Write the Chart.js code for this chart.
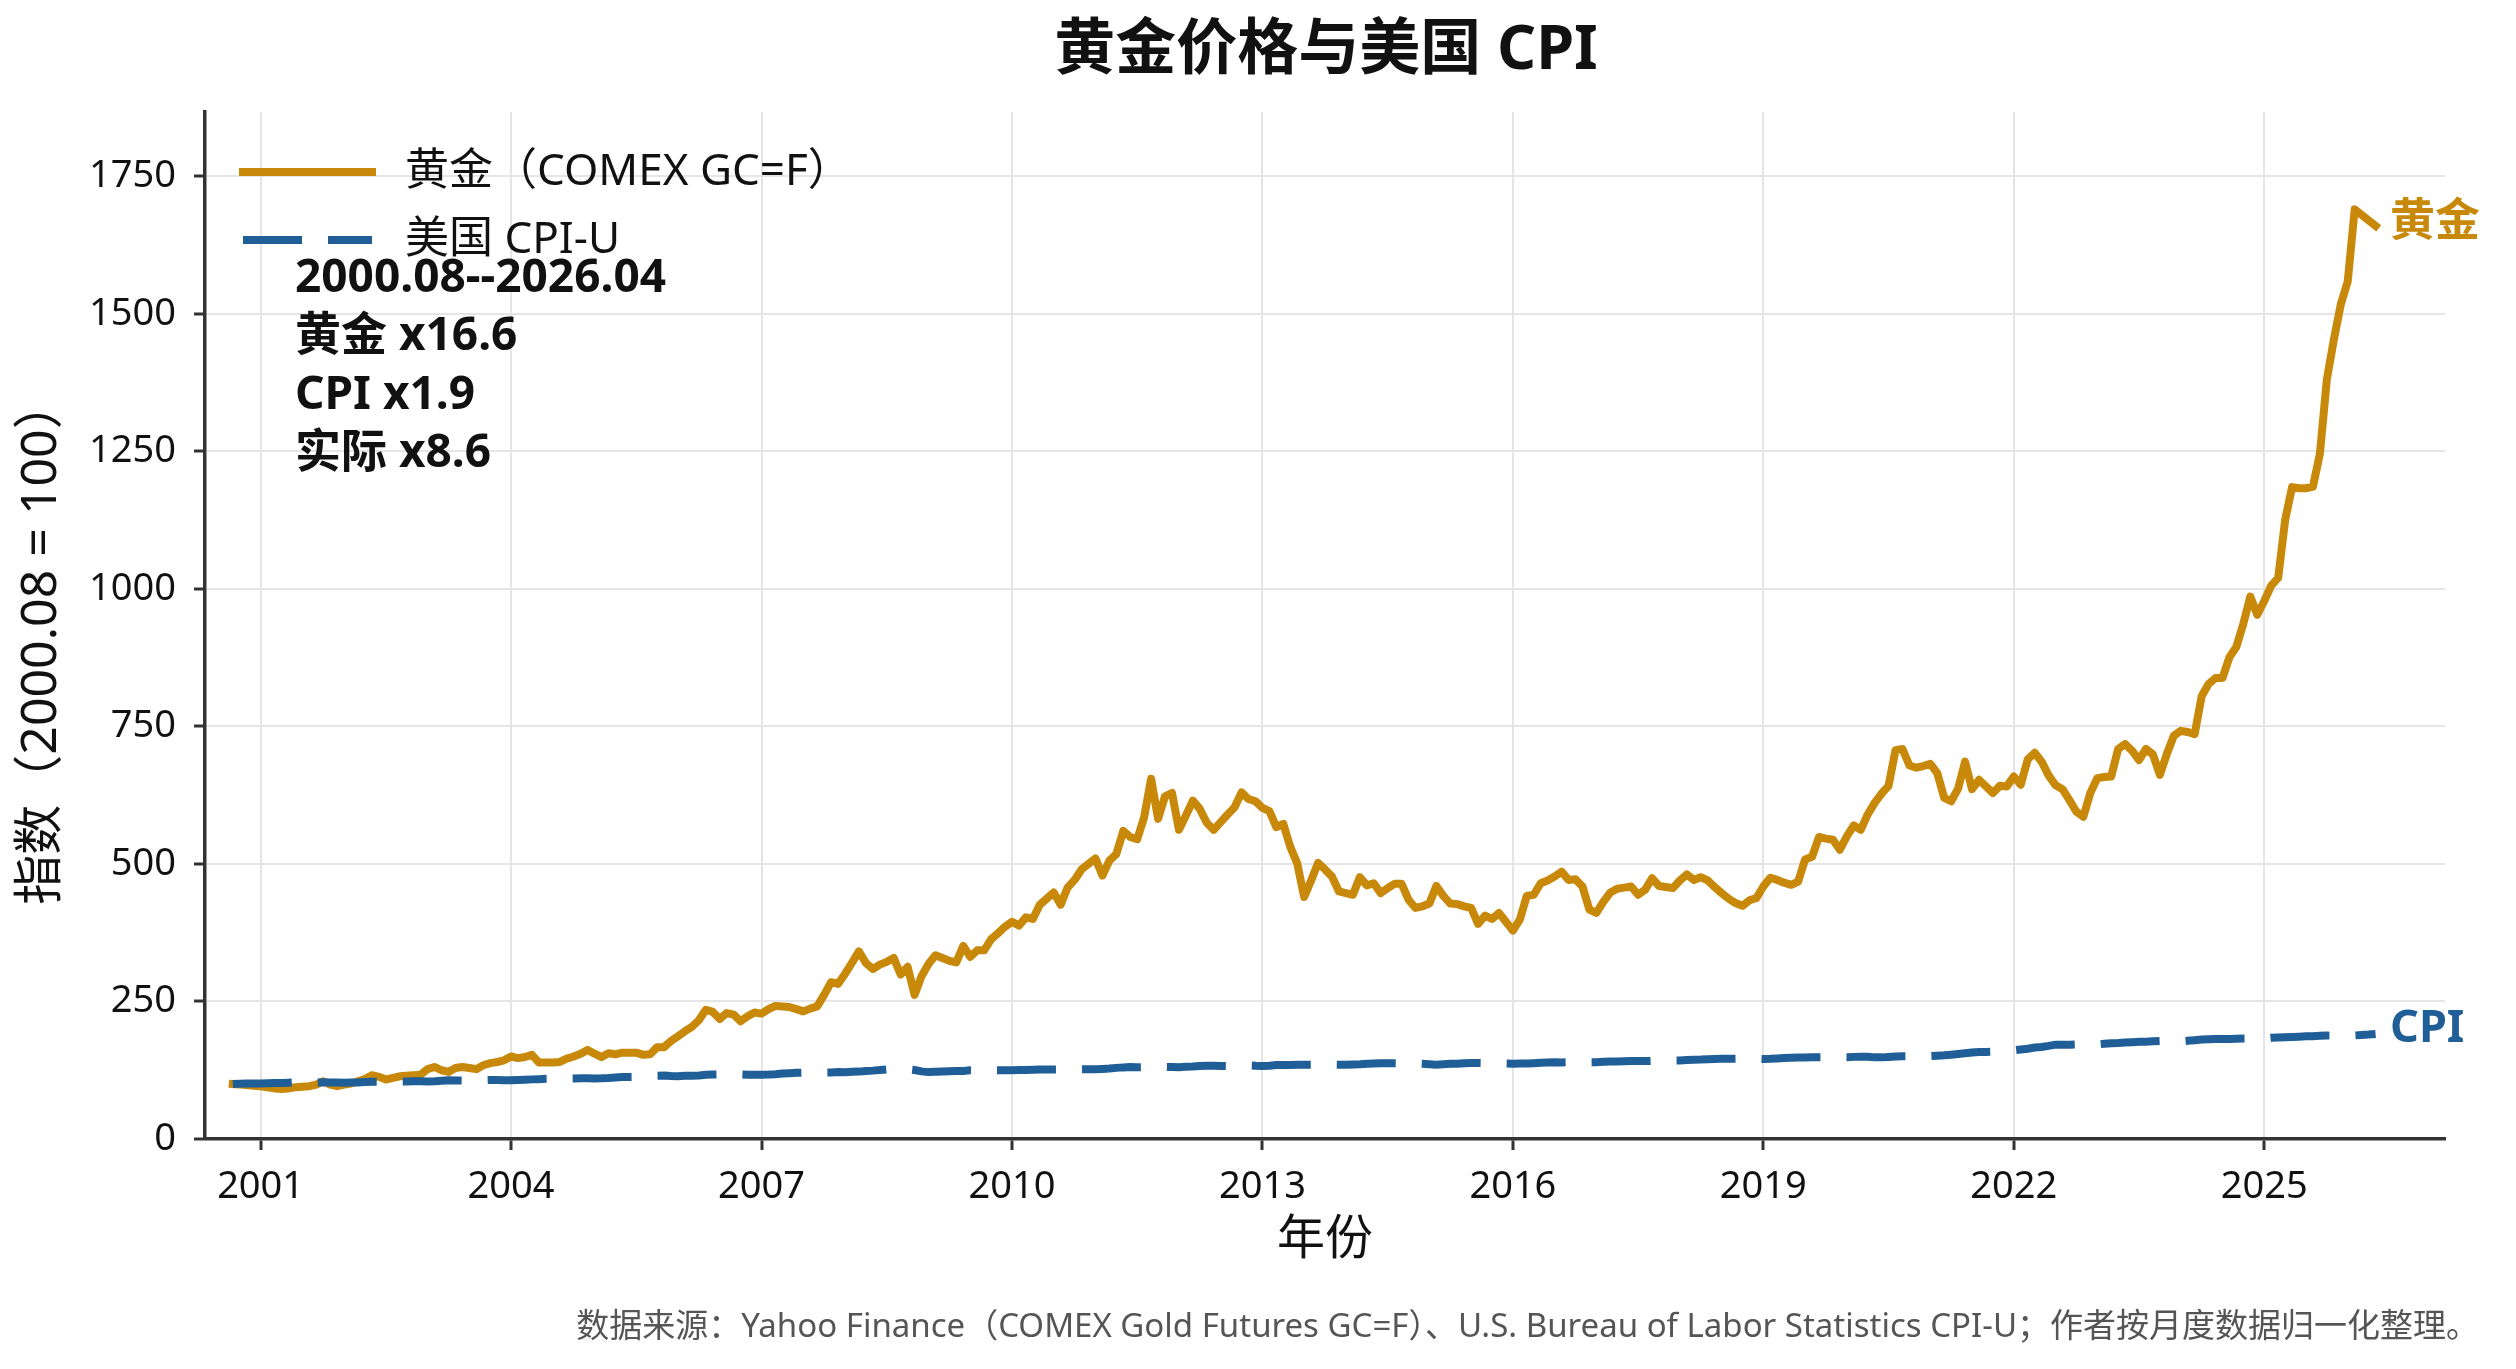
<!DOCTYPE html>
<html lang="zh-CN">
<head>
<meta charset="utf-8">
<title>黄金价格与美国 CPI</title>
<script src="https://cdn.jsdelivr.net/npm/chart.js@4.4.1/dist/chart.umd.min.js"></script>
<style>
  html, body { margin: 0; padding: 0; background: #fff; }
  #wrap { width: 2516px; height: 1369px; position: relative; }
</style>
</head>
<body>
<div id="wrap"><canvas id="chart" width="2516" height="1369"></canvas></div>
<script>
// Monthly series, 2000.08 .. 2026.04, index 2000.08 = 100
const START_YEAR = 2000;
const START_MONTH = 8;

const GOLD = [
  100, 99, 98, 97, 96,
  94, 92, 91, 92, 94, 95, 96, 99, 105, 99, 96, 99,
  101, 105, 109, 116, 113, 108, 111, 114, 115, 116, 117, 127,
  131, 125, 122, 129, 131, 129, 127, 134, 138, 140, 143, 150,
  147, 149, 153, 139, 139, 139, 140, 146, 150, 155, 162, 155,
  149, 156, 154, 157, 157, 157, 153, 154, 167, 167, 178, 187,
  196, 204, 216, 235, 231, 218, 229, 226, 214, 223, 230, 228,
  236, 242, 241, 240, 236, 232, 237, 241, 262, 285, 282, 300,
  320, 341, 320, 309, 317, 322, 329, 299, 313, 262, 296, 318,
  334, 329, 324, 321, 351, 331, 343, 343, 363, 374, 386, 395,
  388, 403, 400, 426, 437, 448, 426, 457, 471, 490, 500, 510,
  479, 506, 518, 560, 549, 545, 585, 655, 582, 623, 629, 562,
  588, 615, 600, 575, 562, 576, 590, 603, 630, 618, 614, 602,
  596, 567, 573, 531, 501, 440, 470, 502, 490, 477, 450, 447,
  444, 476, 461, 465, 447, 456, 464, 464, 435, 420, 423, 428,
  460, 442, 428, 427, 423, 420, 391, 406, 400, 411, 395, 379,
  399, 442, 444, 465, 470, 477, 486, 471, 472, 459, 417, 411,
  431, 448, 455, 457, 459, 444, 453, 474, 460, 458, 456, 470,
  481, 471, 476, 470, 458, 447, 437, 429, 424, 434, 438, 459,
  475, 471, 466, 462, 468, 508, 513, 549, 546, 544, 526, 550,
  570, 562, 590, 611, 628, 642, 707, 709, 679, 675, 678, 682,
  665, 620, 614, 637, 686, 636, 653, 641, 629, 642, 641, 659,
  644, 690, 702, 686, 661, 643, 636, 616, 595, 586, 629, 656,
  658, 659, 709, 718, 706, 689, 709, 699, 662, 700, 733, 742,
  740, 736, 805, 827, 838, 838, 876, 895, 937, 986, 953, 978,
  1006, 1020, 1125, 1185, 1183, 1183, 1186, 1246, 1381, 1453, 1517, 1559,
  1690, 1680, 1670, 1660
];

const CPI = [
  100.0, 100.5, 100.7, 100.8, 100.7,
  101.3, 101.7, 102.0, 102.4, 102.8, 103.0, 102.7, 102.7, 103.2, 102.8, 102.7, 102.3,
  102.5, 102.9, 103.5, 104.1, 104.1, 104.1, 104.2, 104.6, 104.7, 104.9, 104.9, 104.7,
  105.2, 106.0, 106.6, 106.4, 106.2, 106.3, 106.4, 106.8, 107.2, 107.1, 106.8, 106.7,
  107.2, 107.8, 108.4, 108.8, 109.4, 109.8, 109.6, 109.7, 109.9, 110.5, 110.5, 110.1,
  110.4, 111.0, 111.9, 112.6, 112.5, 112.6, 113.1, 113.7, 115.0, 115.3, 114.4, 113.9,
  114.8, 115.0, 115.6, 116.6, 117.2, 117.4, 117.8, 118.0, 117.4, 116.8, 116.6, 116.8,
  117.1, 117.8, 118.9, 119.6, 120.3, 120.6, 120.5, 120.3, 120.7, 120.9, 121.6, 121.5,
  122.2, 122.5, 123.6, 124.3, 125.3, 126.6, 127.3, 126.8, 126.6, 125.3, 122.9, 121.6,
  122.2, 122.8, 123.1, 123.4, 123.8, 124.8, 124.7, 124.9, 125.0, 125.1, 125.2, 124.9,
  125.4, 125.4, 125.9, 126.2, 126.3, 126.2, 126.2, 126.3, 126.4, 126.6, 126.6, 126.9,
  127.4, 128.1, 129.3, 130.2, 130.8, 130.6, 130.7, 131.1, 131.3, 131.0, 130.9, 130.6,
  131.2, 131.8, 132.8, 133.2, 133.0, 132.8, 132.6, 133.3, 133.9, 133.9, 133.2, 132.9,
  133.3, 134.4, 134.7, 134.5, 134.8, 135.1, 135.2, 135.4, 135.5, 135.1, 134.9, 134.8,
  135.4, 135.9, 136.7, 137.2, 137.7, 137.9, 137.9, 137.7, 137.7, 137.4, 136.7, 135.9,
  135.2, 135.8, 136.6, 136.9, 137.6, 138.1, 138.1, 137.9, 137.7, 137.6, 137.3, 136.9,
  137.1, 137.2, 137.8, 138.5, 139.0, 139.5, 139.2, 139.4, 139.7, 139.9, 139.7, 139.7,
  140.5, 141.0, 141.1, 141.5, 141.6, 141.8, 141.7, 142.1, 142.8, 142.8, 142.8, 142.7,
  143.5, 144.1, 144.4, 145.0, 145.6, 145.8, 145.8, 145.9, 146.1, 146.4, 145.8, 145.4,
  145.7, 146.3, 147.1, 147.9, 148.2, 148.2, 148.5, 148.5, 148.6, 148.9, 148.8, 148.7,
  149.3, 149.7, 149.4, 148.4, 148.4, 149.2, 149.9, 150.4, 150.6, 150.7, 150.6, 150.7,
  151.4, 152.2, 153.3, 154.6, 155.8, 157.2, 158.0, 158.3, 158.7, 160.1, 160.8, 161.3,
  162.7, 164.2, 166.4, 167.3, 169.2, 171.5, 171.5, 171.4, 171.8, 172.5, 172.3, 171.8,
  173.1, 174.1, 174.7, 175.6, 176.0, 176.6, 176.9, 177.7, 178.1, 178.1, 177.7, 177.5,
  178.5, 179.6, 180.7, 181.4, 181.8, 181.8, 182.0, 182.2, 182.5, 182.7, 182.6, 182.6,
  183.9, 184.7, 185.1, 185.6, 186.1, 186.7, 186.9, 187.5, 188.0, 187.8, 187.6, 187.6,
  188.3, 189.0, 189.8, 191.0
];

const X_TICKS = [2001, 2004, 2007, 2010, 2013, 2016, 2019, 2022, 2025];
const Y_TICKS = [0, 250, 500, 750, 1000, 1250, 1500, 1750];

const SUMMARY = ['2000.08--2026.04', '黄金 x16.6', 'CPI x1.9', '实际 x8.6'];

const GOLD_COLOR = '#C8890B';
const CPI_COLOR = '#205E97';
const SANS = "'Noto Sans', 'Noto Sans CJK SC', sans-serif";

// month index -> decimal year (month end)
const monthX = (i) => START_YEAR + (START_MONTH + i) / 12;

const toPoints = (arr) => arr.map((v, i) => ({ x: monthX(i), y: v }));

const decor = {
  id: 'decor',
  afterDraw(chart) {
    const ctx = chart.ctx;
    ctx.save();

    // title
    ctx.fillStyle = '#111';
    ctx.font = `bold 61px ${SANS}`;
    ctx.textAlign = 'center';
    ctx.textBaseline = 'middle';
    ctx.fillText('黄金价格与美国 CPI', 1326, 52);

    // axis titles
    ctx.font = `48px ${SANS}`;
    ctx.fillText('年份', 1325, 1240);
    ctx.save();
    ctx.translate(42, 642);
    ctx.rotate(-Math.PI / 2);
    ctx.font = `50px ${SANS}`;
    ctx.fillText('指数（2000.08 = 100）', 0, 0);
    ctx.restore();

    // legend
    ctx.lineWidth = 8;
    ctx.strokeStyle = GOLD_COLOR;
    ctx.lineCap = 'square';
    ctx.beginPath();
    ctx.moveTo(243, 172);
    ctx.lineTo(372, 172);
    ctx.stroke();
    ctx.strokeStyle = CPI_COLOR;
    ctx.lineCap = 'butt';
    ctx.setLineDash([59, 26]);
    ctx.beginPath();
    ctx.moveTo(243, 240);
    ctx.lineTo(372, 240);
    ctx.stroke();
    ctx.setLineDash([]);

    ctx.textAlign = 'left';
    ctx.font = `44px ${SANS}`;
    ctx.fillStyle = '#111';
    ctx.fillText('黄金（COMEX GC=F）', 405, 172);
    ctx.fillText('美国 CPI-U', 405, 240);

    // summary block
    ctx.font = `bold 46px ${SANS}`;
    ctx.textBaseline = 'alphabetic';
    const baselines = [292, 350, 409, 467];
    SUMMARY.forEach((t, k) => ctx.fillText(t, 295, baselines[k]));

    // end labels
    ctx.textBaseline = 'middle';
    ctx.font = `bold 45px ${SANS}`;
    ctx.fillStyle = GOLD_COLOR;
    ctx.fillText('黄金', 2390, 223);
    ctx.fillStyle = CPI_COLOR;
    ctx.fillText('CPI', 2390, 1029);

    // source note
    ctx.font = `33px ${SANS}`;
    ctx.fillStyle = '#555';
    ctx.textAlign = 'right';
    ctx.fillText('数据来源：Yahoo Finance（COMEX Gold Futures GC=F）、U.S. Bureau of Labor Statistics CPI-U；作者按月度数据归一化整理。', 2479, 1328);

    ctx.restore();
  }
};

const gridOpts = {
  color: '#e5e5e5',
  lineWidth: 2,
  tickColor: '#333',
  tickLength: 11,
  tickWidth: 3,
};

new Chart(document.getElementById('chart'), {
  type: 'line',
  data: {
    datasets: [
      {
        label: '黄金（COMEX GC=F）',
        data: toPoints(GOLD),
        borderColor: GOLD_COLOR,
        backgroundColor: GOLD_COLOR,
        borderWidth: 8,
        borderCapStyle: 'square',
        borderJoinStyle: 'round',
        pointRadius: 0,
        tension: 0,
        order: 1,
      },
      {
        label: '美国 CPI-U',
        data: toPoints(CPI),
        borderColor: CPI_COLOR,
        backgroundColor: CPI_COLOR,
        borderWidth: 8,
        borderDash: [59, 26],
        borderCapStyle: 'butt',
        pointRadius: 0,
        tension: 0,
        order: 0,
      },
    ],
  },
  options: {
    responsive: false,
    animation: false,
    devicePixelRatio: 1,
    layout: { padding: { left: 0, right: 71, top: 112, bottom: 0 } },
    plugins: {
      legend: { display: false },
      tooltip: { enabled: false },
      title: { display: false },
    },
    scales: {
      x: {
        type: 'linear',
        min: 2000.334,
        max: 2027.165,
        afterBuildTicks: (s) => { s.ticks = X_TICKS.map((v) => ({ value: v })); },
        afterFit: (s) => { s.height = 230; },
        grid: gridOpts,
        border: { color: '#333', width: 3.5 },
        ticks: {
          color: '#111',
          font: { family: SANS, size: 38 },
          padding: 14,
          maxRotation: 0,
          autoSkip: false,
          callback: (v) => String(v),
        },
      },
      y: {
        min: 0,
        max: 1867,
        afterBuildTicks: (s) => { s.ticks = Y_TICKS.map((v) => ({ value: v })); },
        afterFit: (s) => { s.width = 205; },
        grid: gridOpts,
        border: { color: '#333', width: 3.5 },
        ticks: {
          color: '#111',
          font: { family: SANS, size: 38 },
          padding: 18,
          autoSkip: false,
          callback: (v) => String(v),
        },
      },
    },
  },
  plugins: [decor],
});
</script>
</body>
</html>
